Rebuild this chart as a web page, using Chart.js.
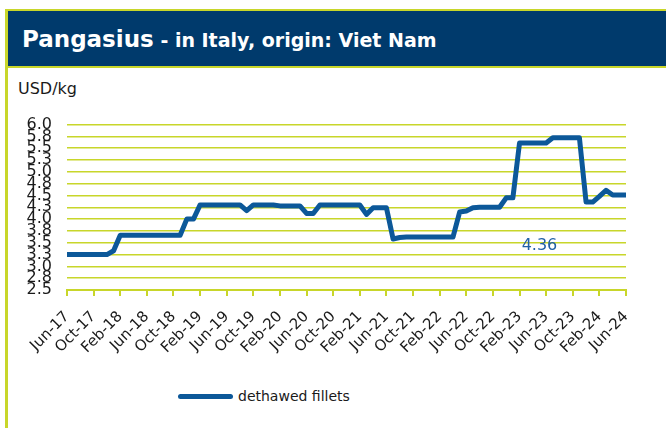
<!DOCTYPE html>
<html>
<head>
<meta charset="utf-8">
<script src="https://cdn.jsdelivr.net/npm/chart.js@4"></script>
<style>
  body { margin: 0; width: 666px; height: 428px; background: #fff; overflow: hidden; position: relative; font-family: 'DejaVu Sans', sans-serif; }
  .frame { position: absolute; left: 5px; top: 9px; width: 3px; height: 419px; background: #c8d62a; }
  .titlebar { position: absolute; left: 5px; top: 9px; right: 0; height: 55px; background: #003a6c;
    border-top: 2px solid #c8d62a; border-bottom: 2px solid #c8d62a; border-left: 3px solid #c8d62a; }
  .title { position: absolute; left: 14px; top: 15px; color: #fff; font-weight: bold; white-space: nowrap; }
  .title .big { font-size: 23px; }
  .title .small { font-size: 19px; }
  .unit { position: absolute; left: 18px; top: 79px; font-size: 16px; color: #1a1a1a; }
  .wrap { position: absolute; left: 0; top: 100px; width: 666px; height: 270px; }
  .legend { position: absolute; left: 178px; top: 388px; display: flex; align-items: center; font-size: 14px; color: #1a1a1a; }
  .legend .swatch { width: 55px; height: 5px; border-radius: 3px; margin-right: 5px; }
</style>
</head>
<body>
<div class="frame"></div>
<div class="titlebar"><div class="title"><span class="big">Pangasius</span><span class="small"> - in Italy, origin: Viet Nam</span></div></div>
<div class="unit">USD/kg</div>
<div class="wrap"><canvas id="chart"></canvas></div>
<div class="legend" id="legend"></div>
<script>
// monthly prices, Jun-17 .. Jun-24 (85 months)
const seriesName = 'dethawed fillets'
const prices = [
  3.25, 3.25, 3.25, 3.25, 3.25, 3.25, 3.25, 3.33, 3.66, 3.66,
  3.66, 3.66, 3.66, 3.66, 3.66, 3.66, 3.66, 3.66, 4.00, 4.00,
  4.30, 4.30, 4.30, 4.30, 4.30, 4.30, 4.30, 4.18, 4.30, 4.30,
  4.30, 4.30, 4.28, 4.28, 4.28, 4.28, 4.12, 4.12, 4.30, 4.30,
  4.30, 4.30, 4.30, 4.30, 4.30, 4.10, 4.24, 4.24, 4.24, 3.58,
  3.61, 3.62, 3.62, 3.62, 3.62, 3.62, 3.62, 3.62, 3.62, 4.15,
  4.17, 4.24, 4.25, 4.25, 4.25, 4.25, 4.45, 4.45, 5.61, 5.61,
  5.61, 5.61, 5.61, 5.72, 5.72, 5.72, 5.72, 5.72, 4.36, 4.36,
  4.48, 4.61, 4.51, 4.51, 4.51,
]
// one tick label every 4 months
const tickLabels = [
  'Jun-17', 'Oct-17', 'Feb-18', 'Jun-18', 'Oct-18', 'Feb-19', 'Jun-19', 'Oct-19',
  'Feb-20', 'Jun-20', 'Oct-20', 'Feb-21', 'Jun-21', 'Oct-21', 'Feb-22', 'Jun-22',
  'Oct-22', 'Feb-23', 'Jun-23', 'Oct-23', 'Feb-24', 'Jun-24',
]
const yMin = 2.5
const yMax = 6.0
const yStep = 0.25

const noteText = '4.36'
const noteMonth = 71
const noteValue = 3.43

const green = '#c8d62a'
const blue = '#0c5899'

Chart.defaults.font.family = "'DejaVu Sans', sans-serif"
Chart.defaults.color = '#1a1a1a'

// the stray "4.36" value label under the curve
const notePlugin = {
  id: 'note',
  afterDatasetsDraw(chart) {
    const { ctx, scales } = chart
    ctx.save()
    ctx.font = "16px 'DejaVu Sans'"
    ctx.fillStyle = '#2160a6'
    ctx.textAlign = 'center'
    ctx.textBaseline = 'middle'
    ctx.fillText(noteText, scales.x.getPixelForValue(noteMonth), scales.y.getPixelForValue(noteValue))
    ctx.restore()
  },
}

const chart = new Chart(document.getElementById('chart'), {
  type: 'line',
  plugins: [notePlugin],
  data: {
    datasets: [
      {
        label: seriesName,
        data: prices.map((v, i) => ({ x: i, y: v })),
        borderColor: blue,
        backgroundColor: blue,
        borderWidth: 5,
        pointRadius: 0,
        borderJoinStyle: 'round',
        borderCapStyle: 'round',
        tension: 0,
      },
    ],
  },
  options: {
    responsive: true,
    maintainAspectRatio: false,
    animation: false,
    layout: { padding: { top: 24, right: 40, left: 0, bottom: 0 } },
    plugins: {
      legend: { display: false },
      tooltip: { enabled: false },
    },
    scales: {
      x: {
        type: 'linear',
        min: 0,
        max: prices.length - 1,
        afterFit: (scale) => { scale.height = 80 },
        border: { color: green, width: 2 },
        grid: { drawOnChartArea: false, drawTicks: true, tickLength: 6, color: green, lineWidth: 2 },
        ticks: {
          stepSize: 4,
          autoSkip: false,
          maxRotation: 45,
          minRotation: 45,
          padding: 12,
          font: { size: 15 },
          callback: (v) => tickLabels[v / 4],
        },
      },
      y: {
        min: yMin,
        max: yMax,
        afterFit: (scale) => { scale.width = 67 },
        border: { display: false },
        grid: { color: green, lineWidth: 1.5, drawTicks: false },
        ticks: {
          stepSize: yStep,
          autoSkip: false,
          padding: 15,
          font: { size: 16 },
          callback: (v) => v.toFixed(1),
        },
      },
    },
  },
})

// legend from the dataset
const legend = document.getElementById('legend')
chart.data.datasets.forEach((ds) => {
  const sw = document.createElement('span')
  sw.className = 'swatch'
  sw.style.background = ds.borderColor
  const txt = document.createElement('span')
  txt.textContent = ds.label
  legend.append(sw, txt)
})
</script>
</body>
</html>
